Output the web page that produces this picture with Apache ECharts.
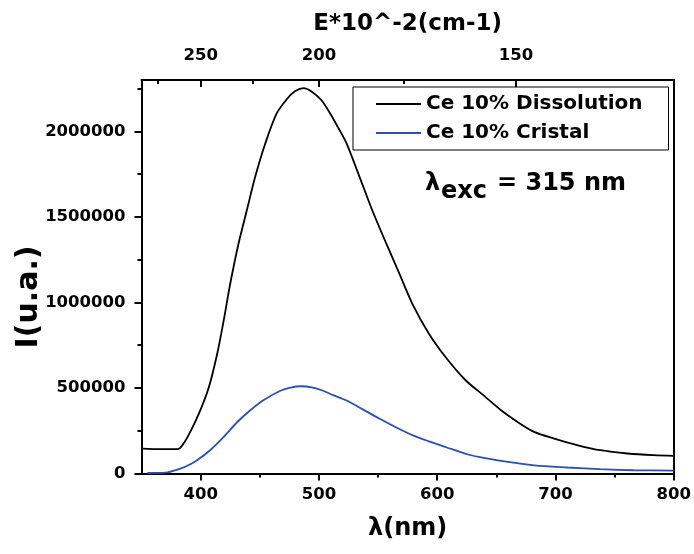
<!DOCTYPE html>
<html><head><meta charset="utf-8">
<script src="https://cdn.jsdelivr.net/npm/echarts@6/dist/echarts.min.js"></script>
<style>html,body{margin:0;padding:0;background:#fff}#c{width:694px;height:554px}</style>
</head><body><div id="c"></div>
<script>
// ---- data ----
const wlDissolution = [350,360,370,381,384,389,398.5,407,414,419.5,425,432,439,446,454.5,464,473,480,487,494,502,509,516,523,534,545,557,568,579,593,607,624,640,654,668,682,699,719,738,761,783,800];
const intDissolution = [145000,143000,142000,143000,160000,214000,350000,506000,700000,895000,1109000,1343000,1537000,1731000,1926000,2101000,2189000,2235000,2253000,2232000,2183000,2110000,2025000,1935000,1740000,1540000,1343000,1168000,992000,817000,681000,545000,452000,370000,301000,243000,204000,165000,136000,117000,107000,103000];
const wlCristal = [355,370,383,390,397,408,419.5,431,442,453,467,476,485,494,503,512,523,537,551,565,579,593,607,626,635,654,682,710,738,766,800];
const intCristal = [3000,5000,29000,50000,78000,136000,214000,301000,370000,428000,482000,502000,510000,503000,485000,458000,428000,375000,321000,270000,224000,188000,155000,111000,97000,74000,48000,35000,25000,19000,17000];
const seriesNames = ['Ce 10% Dissolution','Ce 10% Cristal'];
const xMajorTicks = [400,500,600,700,800];
const xMinorTicks = [450,550,650,750];
const yMajorTicks = [0,500000,1000000,1500000,2000000];
const yMinorTicks = [250000,750000,1250000,1750000,2250000];
const topMajorE = [250,200,150];
const topMinorE = [275,225,175];

const F = 'DejaVu Sans';
const lab = (s) => ({color:'#000', fontFamily:F, fontWeight:'bold', fontSize:s});
const axLine = () => ({show:true, onZero:false, lineStyle:{color:'#000', width:2}});
const noLine = () => ({show:false, onZero:false});
const tk = (vals, len, inside) => ({show:true, inside:!!inside, customValues:vals, length:len, lineStyle:{color:'#000', width:2}});

const chart = echarts.init(document.getElementById('c'), null, {renderer:'canvas'});
chart.setOption({
  animation:false,
  backgroundColor:'#fff',
  grid:{left:141.5, right:17, top:80, bottom:80.5},
  legend:{
    orient:'vertical', left:353, top:87, padding:[7,26,7,23], itemGap:9,
    itemWidth:45, itemHeight:2, icon:'rect',
    borderColor:'#000', borderWidth:1,
    textStyle:Object.assign(lab(20), {lineHeight:20}),
    data:seriesNames
  },
  xAxis:[
    {type:'value', position:'bottom', min:350, max:800, axisLine:axLine(),
     axisTick:tk(xMajorTicks,7), splitLine:{show:false},
     axisLabel:Object.assign(lab(16.5), {customValues:xMajorTicks, margin:13, formatter:v=>String(v)}),
     name:'λ(nm)', nameLocation:'middle', nameGap:43, nameTextStyle:lab(24)},
    {type:'value', position:'bottom', min:350, max:800, axisLine:noLine(),
     axisTick:tk(xMinorTicks,4), axisLabel:{show:false}, splitLine:{show:false}},
    {type:'value', position:'top', min:350, max:800, axisLine:axLine(),
     axisTick:tk(topMajorE.map(e=>1e5/e),7,true), splitLine:{show:false},
     axisLabel:Object.assign(lab(16.5), {customValues:topMajorE.map(e=>1e5/e), margin:16, formatter:v=>String(Math.round(1e5/v))}),
     name:'E*10^-2(cm-1)', nameLocation:'middle', nameGap:44, nameTextStyle:lab(23)},
    {type:'value', position:'top', min:350, max:800, axisLine:noLine(),
     axisTick:tk(topMinorE.map(e=>1e5/e),4,true), axisLabel:{show:false}, splitLine:{show:false}}
  ],
  yAxis:[
    {type:'value', position:'left', min:0, max:2300000, axisLine:axLine(),
     axisTick:tk(yMajorTicks,7), splitLine:{show:false},
     axisLabel:Object.assign(lab(16.5), {customValues:yMajorTicks, margin:16, formatter:v=>String(v)})},
    {type:'value', position:'left', min:0, max:2300000, axisLine:noLine(),
     axisTick:tk(yMinorTicks,4), axisLabel:{show:false}, splitLine:{show:false}},
    {type:'value', position:'right', min:0, max:2300000, axisLine:axLine(),
     axisTick:{show:false}, axisLabel:{show:false}, splitLine:{show:false}}
  ],
  series:[
    {name:seriesNames[0], type:'line', xAxisIndex:0, yAxisIndex:0, showSymbol:false, smooth:0.3,
     lineStyle:{color:'#000', width:1.8}, itemStyle:{color:'#000'},
     data:wlDissolution.map((w,i)=>[w,intDissolution[i]])},
    {name:seriesNames[1], type:'line', xAxisIndex:0, yAxisIndex:0, showSymbol:false, smooth:0.3,
     lineStyle:{color:'#2d4fb0', width:1.8}, itemStyle:{color:'#2d4fb0'},
     data:wlCristal.map((w,i)=>[w,intCristal[i]])}
  ],
  graphic:[
    {type:'text', x:29, y:297, rotation:Math.PI/2,
     style:{text:'I(u.a.)', fill:'#000', font:'bold 30px "DejaVu Sans"', align:'center', verticalAlign:'middle'}},
    {type:'text', x:425, y:184,
     style:{text:'λ', fill:'#000', font:'bold 24px "DejaVu Sans"', align:'left', verticalAlign:'middle'}},
    {type:'text', x:441, y:192,
     style:{text:'exc', fill:'#000', font:'bold 24px "DejaVu Sans"', align:'left', verticalAlign:'middle'}},
    {type:'text', x:497, y:184,
     style:{text:'= 315 nm', fill:'#000', font:'bold 24px "DejaVu Sans"', align:'left', verticalAlign:'middle'}}
  ]
});
</script>
</body></html>
